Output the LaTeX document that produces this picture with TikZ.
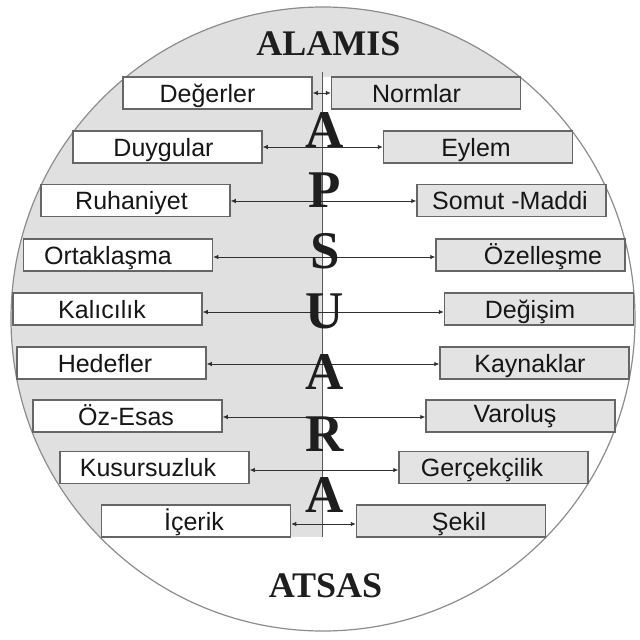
\documentclass[tikz,border=0pt]{standalone}
\usepackage{fontspec}
\newfontfamily\boxfont{Liberation Sans}
\newfontfamily\bigfont{Liberation Serif}
\usetikzlibrary{arrows.meta}
\definecolor{bggray}{HTML}{E0E0E0}
\definecolor{boxgray}{HTML}{E3E3E3}
\definecolor{edgegray}{HTML}{666666}
\definecolor{circgray}{HTML}{8C8C8C}
\definecolor{txt}{HTML}{161616}
\definecolor{bigtxt}{HTML}{1E1E1E}
\definecolor{arrgray}{HTML}{303030}
\tikzset{
  lbox/.style={draw=edgegray, fill=white, line width=1.5pt, minimum width=189pt, minimum height=32pt, inner sep=0pt},
  rbox/.style={lbox, fill=boxgray},
  lab/.style={font=\boxfont\fontsize{25}{25}\selectfont, text=txt, text height=23pt, text depth=5pt, inner sep=0pt},
  arr/.style={<->, >={Latex[length=5pt,width=4.5pt]}, draw=arrgray, line width=0.8pt},
  big/.style={font=\bigfont\bfseries\fontsize{53}{53}\selectfont, text=bigtxt, anchor=base, inner sep=0pt},
  title/.style={font=\bigfont\bfseries\fontsize{36}{36}\selectfont, text=bigtxt, anchor=base, inner sep=0pt},
}
\begin{document}
\begin{tikzpicture}[x=1pt,y=-1pt]
\useasboundingbox (0,0) rectangle (640,640);
% background
\begin{scope}
  \clip (323,319) circle (312pt);
  \fill[white] (0,0) rectangle (640,640);
  \fill[bggray] (0,0) rectangle (640,77);
  \fill[bggray] (0,77) rectangle (322,537);
\end{scope}
\draw[circgray, line width=1.2pt] (323,319) circle (312pt);
% vertical axis
\coordinate (vtop) at (322,72);
\coordinate (vbot) at (322,537);
\draw[arrgray!80, line width=1pt] (vtop) -- (vbot);
% boxes
\node[lbox,label={[lab,xshift=-10pt]center:Değerler}] (L1) at (217.5,93) {};
\node[rbox,label={[lab,xshift=-9.5pt]center:Normlar}] (R1) at (426,93) {};
\node[lbox,label={[lab,xshift=-4pt]center:Duygular}] (L2) at (167.5,147) {};
\node[rbox,label={[lab,xshift=-2pt]center:Eylem}] (R2) at (478,147) {};
\node[lbox,label={[lab,xshift=-4pt]center:Ruhaniyet}] (L3) at (135.5,200.5) {};
\node[rbox,label={[lab,xshift=-1.5pt]center:Somut -Maddi}] (R3) at (511.5,200.5) {};
\node[lbox,label={[lab,xshift=-10pt]center:Ortaklaşma}] (L4) at (118,255) {};
\node[rbox,label={[lab,xshift=12.5pt]center:Özelleşme}] (R4) at (530.5,255) {};
\node[lbox,label={[lab,xshift=-5.5pt]center:Kalıcılık}] (L5) at (107.5,309) {};
\node[rbox,label={[lab,xshift=-9pt]center:Değişim}] (R5) at (539,309) {};
\node[lbox,label={[lab,xshift=-6.5pt]center:Hedefler}] (L6) at (111.5,363) {};
\node[rbox,label={[lab,xshift=-4.5pt]center:Kaynaklar}] (R6) at (534.5,363) {};
\node[lbox,label={[lab,xshift=-1.5pt]center:Öz-Esas}] (L7) at (127.5,416) {};
\node[rbox,label={[lab,xshift=-5.5pt,yshift=2.5pt]center:Varoluş}] (R7) at (520.5,416) {};
\node[lbox,label={[lab,xshift=-6.5pt]center:Kusursuzluk}] (L8) at (154.5,467.5) {};
\node[rbox,label={[lab,xshift=-11.5pt]center:Gerçekçilik}] (R8) at (493.5,467.5) {};
\node[lbox,label={[lab,xshift=-2pt]center:İçerik}] (L9) at (196,521) {};
\node[rbox,label={[lab,xshift=8pt]center:Şekil}] (R9) at (451,521) {};
% arrows
\draw[arr] (L1.east) -- (R1.west);
\draw[arr] (L2.east) -- (R2.west);
\draw[arr] ([yshift=-0.5pt]L3.east) -- ([yshift=-0.5pt]R3.west);
\draw[arr] ([yshift=-2pt]L4.east) -- ([yshift=-2pt]R4.west);
\draw[arr] ([yshift=-3pt]L5.east) -- ([yshift=-3pt]R5.west);
\draw[arr] ([yshift=-1pt]L6.east) -- ([yshift=-1pt]R6.west);
\draw[arr] ([yshift=-1pt]L7.east) -- ([yshift=-1pt]R7.west);
\draw[arr] ([yshift=-2.5pt]L8.east) -- ([yshift=-2.5pt]R8.west);
\draw[arr] ([yshift=-3pt]L9.east) -- ([yshift=-3pt]R9.west);
% big letters
\node[big] (c1) at (325,147) {A};
\node[big] (c2) at (325,207) {P};
\node[big] (c3) at (325,268) {S};
\node[big] (c4) at (325,328) {U};
\node[big] (c5) at (325,389) {A};
\node[big] (c6) at (325,451) {R};
\node[big] (c7) at (325,512) {A};
% titles
\node[title] (top) at (328.5,55) {ALAMIS};
\node[title] (bot) at (325.5,597) {ATSAS};
\end{tikzpicture}
\end{document}
